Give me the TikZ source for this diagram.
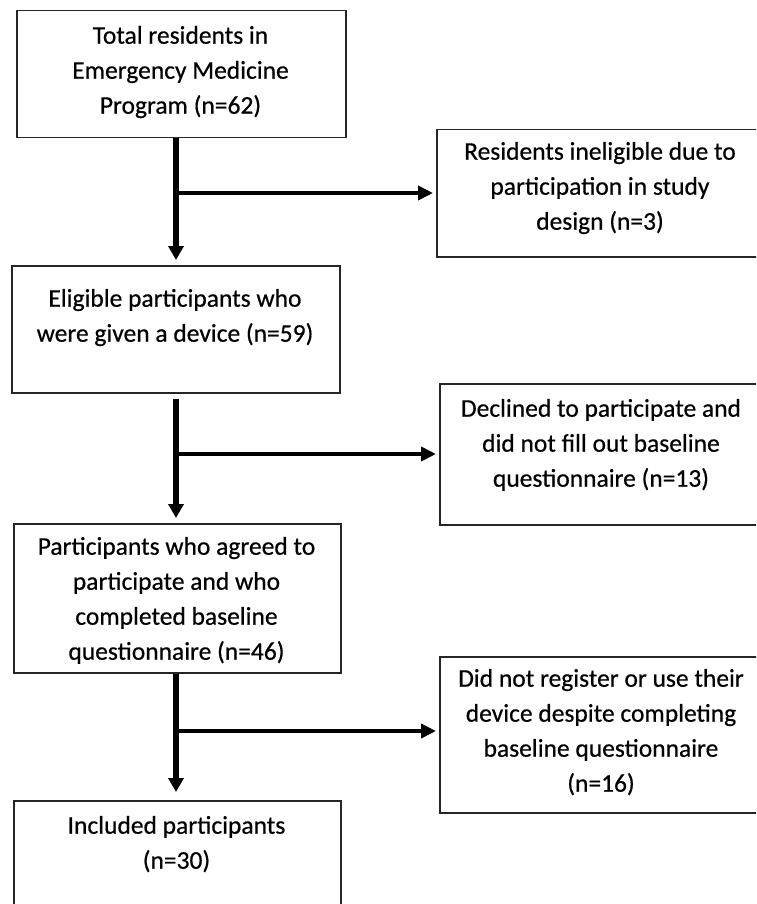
\documentclass[tikz,border=0pt]{standalone}
\usepackage{fontspec}
\setmainfont[FakeBold=0.5]{Carlito}
\usetikzlibrary{arrows.meta}
\begin{document}
\begin{tikzpicture}[x=1pt,y=-1pt,
  box/.style={draw=black!85, line width=1.5pt, inner sep=0pt, anchor=north west},
  txt/.style={anchor=north, align=center, inner sep=0pt, font=\fontsize{25.5}{35}\selectfont},
  flow/.style={line width=5.2pt, -{Triangle[length=14pt,width=15pt]}},
  side/.style={line width=4.2pt, -{Triangle[length=15pt,width=14pt]}}]
\useasboundingbox (0,0) rectangle (756,904);
\begin{scope}
\clip (0,0) rectangle (756,904);
% main boxes
\node[box, minimum width=329pt, minimum height=127pt] (b1) at (16,10) {};
\node[box, minimum width=328pt, minimum height=127pt] (b2) at (11,265) {};
\node[box, minimum width=327pt, minimum height=149pt] (b3) at (13,523) {};
\node[box, minimum width=327pt, minimum height=130pt] (b4) at (13,800) {};
% side boxes
\node[box, minimum width=330pt, minimum height=127pt] (r1) at (436,129) {};
\node[box, minimum width=327pt, minimum height=141pt] (r2) at (439,383) {};
\node[box, minimum width=327pt, minimum height=156pt] (r3) at (439,656) {};
% texts
\node[txt] (t1) at (180.5,19) {\strut Total residents in\\Emergency Medicine\\Program (n=62)};
\node[txt] (t2) at (175,282) {\strut Eligible participants who\\were given a device (n=59)};
\node[txt] (t3) at (176.5,530) {\strut Participants who agreed to\\participate and who\\completed baseline\\questionnaire (n=46)};
\node[txt] (t4) at (176.5,809) {\strut Included participants\\(n=30)};
\node[txt] (u1) at (600,135) {\strut Residents ineligible due to\\participation in study\\design (n=3)};
\node[txt] (u2) at (601,392) {\strut Declined to participate and\\did not fill out baseline\\questionnaire (n=13)};
\node[txt] (u3) at (601,662) {\strut Did not register or use their\\device despite completing\\baseline questionnaire\\(n=16)};
% junctions on the main stem
\coordinate (j1) at (176,193);
\coordinate (j2) at (176,454);
\coordinate (j3) at (176,731);
% main flow
\draw[flow] (b1.south -| j1) -- ([yshift=5pt]b2.north -| j1);
\draw[flow] ([yshift=-5pt]b2.south -| j2) -- ([yshift=5pt]b3.north -| j2);
\draw[flow] (b3.south -| j3) -- ([yshift=8pt]b4.north -| j3);
% exclusions
\draw[side] (j1) -- ([xshift=-3pt]j1 -| r1.west);
\draw[side] (j2) -- ([xshift=-3pt]j2 -| r2.west);
\draw[side] (j3) -- ([xshift=-3pt]j3 -| r3.west);
\end{scope}
\end{tikzpicture}
\end{document}
